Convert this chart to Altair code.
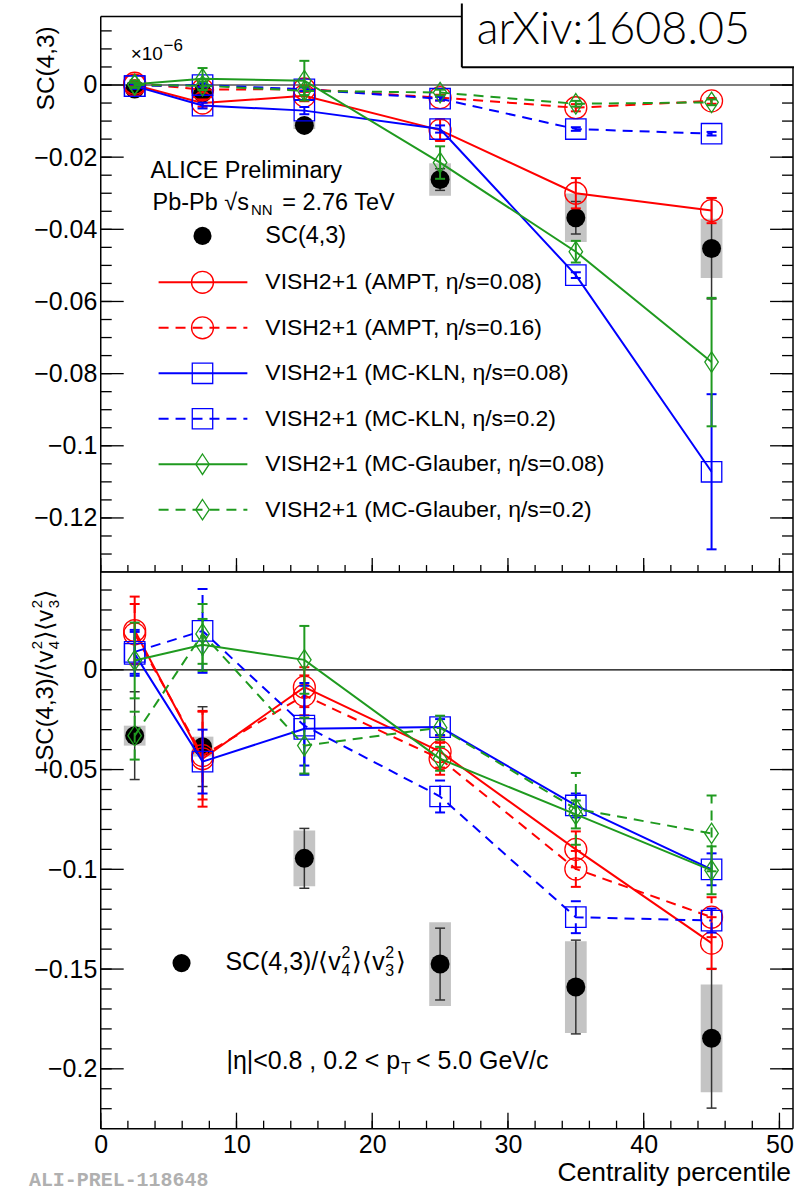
import altair as alt
import pandas as pd

FONT = "Liberation Sans"

# ---------------- data ----------------
CENT = [2.5, 7.5, 15, 25, 35, 45]

# upper panel: SC(4,3)
SC_VAL = [-0.0011, -0.0022, -0.0112, -0.0262, -0.0368, -0.0453]
SC_STAT = [0.0008, 0.0010, 0.0012, 0.0030, 0.0045, 0.0140]
SC_SYS = [0.0006, 0.0008, 0.0010, 0.0045, 0.0067, 0.0082]

TOP_AMPT_008 = [0.0000, -0.0050, -0.0030, -0.0125, -0.0300, -0.0348]
TOP_AMPT_008_ERR = [0.0008, 0.0010, 0.0015, 0.0030, 0.0042, 0.0035]
TOP_AMPT_016 = [0.0005, -0.0013, -0.0011, -0.0035, -0.0063, -0.0044]
TOP_AMPT_016_ERR = [0.0008, 0.0008, 0.0008, 0.0008, 0.0010, 0.0008]
TOP_KLN_008 = [-0.0003, -0.0057, -0.0071, -0.0122, -0.0527, -0.1072]
TOP_KLN_008_ERR = [0.0008, 0.0008, 0.0010, 0.0010, 0.0008, 0.0215]
TOP_KLN_02 = [-0.0003, 0.0000, -0.0012, -0.0038, -0.0122, -0.0135]
TOP_KLN_02_ERR = [0.0005, 0.0005, 0.0005, 0.0005, 0.0005, 0.0005]
TOP_GLA_008 = [0.0002, 0.0017, 0.0012, -0.0215, -0.0462, -0.0768]
TOP_GLA_008_ERR = [0.0010, 0.0030, 0.0055, 0.0045, 0.0030, 0.0178]
TOP_GLA_02 = [0.0000, -0.0002, -0.0016, -0.0021, -0.0052, -0.0048]
TOP_GLA_02_ERR = [0.0006, 0.0012, 0.0012, 0.0008, 0.0008, 0.0008]

# lower panel: SC(4,3)/<v4^2><v3^2>
NSC_VAL = [-0.0330, -0.0385, -0.0945, -0.1475, -0.1590, -0.1847]
NSC_STAT = [0.0220, 0.0200, 0.0150, 0.0180, 0.0235, 0.0350]
NSC_SYS = [0.0050, 0.0050, 0.0140, 0.0210, 0.0230, 0.0270]

BOT_AMPT_008 = [0.0197, -0.0446, -0.0087, -0.0410, -0.0900, -0.1370]
BOT_AMPT_008_ERR = [0.0170, 0.0240, 0.0100, 0.0080, 0.0090, 0.0130]
BOT_AMPT_016 = [0.0180, -0.0430, -0.0128, -0.0446, -0.0998, -0.1240]
BOT_AMPT_016_ERR = [0.0150, 0.0220, 0.0100, 0.0080, 0.0090, 0.0100]
BOT_KLN_008 = [0.0080, -0.0460, -0.0296, -0.0287, -0.0680, -0.1000]
BOT_KLN_008_ERR = [0.0110, 0.0160, 0.0230, 0.0040, 0.0060, 0.0080]
BOT_KLN_02 = [0.0090, 0.0195, -0.0280, -0.0635, -0.1240, -0.1257]
BOT_KLN_02_ERR = [0.0110, 0.0210, 0.0200, 0.0080, 0.0080, 0.0060]
BOT_GLA_008 = [0.0047, 0.0125, 0.0050, -0.0446, -0.0725, -0.1005]
BOT_GLA_008_ERR = [0.0190, 0.0130, 0.0170, 0.0060, 0.0070, 0.0120]
BOT_GLA_02 = [-0.0330, 0.0180, -0.0380, -0.0290, -0.0697, -0.0820]
BOT_GLA_02_ERR = [0.0120, 0.0150, 0.0140, 0.0060, 0.0180, 0.0190]

LEGEND_LABELS = [
    "VISH2+1 (AMPT, η/s=0.08)",
    "VISH2+1 (AMPT, η/s=0.16)",
    "VISH2+1 (MC-KLN, η/s=0.08)",
    "VISH2+1 (MC-KLN, η/s=0.2)",
    "VISH2+1 (MC-Glauber, η/s=0.08)",
    "VISH2+1 (MC-Glauber, η/s=0.2)",
]

TOP_Y_LABELS = [0, -0.02, -0.04, -0.06, -0.08, -0.1, -0.12]
BOT_Y_LABELS = [0, -0.05, -0.1, -0.15, -0.2]
X_LABELS = [0, 10, 20, 30, 40, 50]
TOP_Y_MINOR = [round(0.015 - 0.005 * i, 3) for i in range(30)]
BOT_Y_MINOR = [round(0.04 - 0.01 * i, 2) for i in range(27)]
X_MINOR = [2 * i for i in range(26)]

TOP_MODELS = [
    (TOP_AMPT_008, TOP_AMPT_008_ERR), (TOP_AMPT_016, TOP_AMPT_016_ERR),
    (TOP_KLN_008, TOP_KLN_008_ERR), (TOP_KLN_02, TOP_KLN_02_ERR),
    (TOP_GLA_008, TOP_GLA_008_ERR), (TOP_GLA_02, TOP_GLA_02_ERR),
]
BOT_MODELS = [
    (BOT_AMPT_008, BOT_AMPT_008_ERR), (BOT_AMPT_016, BOT_AMPT_016_ERR),
    (BOT_KLN_008, BOT_KLN_008_ERR), (BOT_KLN_02, BOT_KLN_02_ERR),
    (BOT_GLA_008, BOT_GLA_008_ERR), (BOT_GLA_02, BOT_GLA_02_ERR),
]

# ---------------- styles ----------------
RED, BLUE, GREEN = "#ff0000", "#0000ff", "#1f9a1f"
DASH = [10, 7]
DIAMOND = "M0,-1L0.66,0L0,1L-0.66,0Z"
STYLES = [
    dict(color=RED, dash=None, shape="circle", size=484),
    dict(color=RED, dash=DASH, shape="circle", size=484),
    dict(color=BLUE, dash=None, shape="square", size=420),
    dict(color=BLUE, dash=DASH, shape="square", size=420),
    dict(color=GREEN, dash=None, shape=DIAMOND, size=420),
    dict(color=GREEN, dash=DASH, shape=DIAMOND, size=420),
]

ONE = pd.DataFrame({"a": [0]})
W = 694
H_TOP = 557
H_BOT = 558

W_EM = {**{d: .556 for d in "0123456789"}, " ": .278, "(": .333, ")": .333,
        ",": .278, ".": .278, "/": .278, "−": .584, "-": .333, "=": .584,
        "<": .584, "|": .26, "+": .584, "η": .55, "⟨": .39, "⟩": .39,
        "√": .55, "S": .667, "C": .722, "v": .5, "P": .667, "b": .556,
        "T": .611, "e": .556, "V": .667, "G": .778, "c": .5, "s": .5, "N": .722}


def tw(s, size):
    return sum(W_EM.get(ch, .556) for ch in s) * size


def px_rule(x, y, x2=None, y2=None, color="black", width=1.5, dash=None):
    enc = dict(x=alt.value(x), y=alt.value(y))
    if x2 is not None:
        enc["x2"] = alt.value(x2)
    if y2 is not None:
        enc["y2"] = alt.value(y2)
    kw = dict(color=color, strokeWidth=width)
    if dash:
        kw["strokeDash"] = dash
    return alt.Chart(ONE).mark_rule(**kw).encode(**enc)


def px_text(txt, x, y, size, align="left", baseline="middle", angle=None,
            font=FONT, color="black", weight=None):
    kw = dict(font=font, fontSize=size, align=align, baseline=baseline, color=color)
    if angle is not None:
        kw["angle"] = angle
    if weight is not None:
        kw["fontWeight"] = weight
    return alt.Chart(ONE).mark_text(**kw).encode(
        x=alt.value(x), y=alt.value(y), text=alt.value(txt))


def build_panel(H, ydom, ylabels, yminor, xlen, val, stat, sys, models, show_x, extra):
    xsc = alt.Scale(domain=[0, 51], nice=False, zero=False)
    ysc = alt.Scale(domain=ydom, nice=False, zero=False)
    d = pd.DataFrame({"x": CENT, "v": val, "stat": stat, "sys": sys})
    d["bx1"] = d["x"] - 0.8
    d["bx2"] = d["x"] + 0.8
    d["by1"] = d["v"] - d["sys"]
    d["by2"] = d["v"] + d["sys"]
    d["ey1"] = d["v"] - d["stat"]
    d["ey2"] = d["v"] + d["stat"]

    if show_x:
        xaxis = alt.Axis(values=X_LABELS, format="d", title=None, labelPadding=4,
                         labelFlush=False, labelOverlap=False, labelFontSize=25,
                         ticks=False, domain=False, grid=False)
    else:
        xaxis = None
    yaxis = alt.Axis(values=ylabels, format=".2~f", title=None, labelPadding=4,
                     labelFlush=False, labelOverlap=False, labelFontSize=25,
                     ticks=False, domain=False, grid=False)

    X = lambda f: alt.X(f, scale=xsc, axis=xaxis)
    Y = lambda f: alt.Y(f, scale=ysc, axis=yaxis)

    layers = [px_rule(-100, 0, x2=-99, color="white", width=1)]
    # systematic boxes
    layers.append(alt.Chart(d).mark_rect(color="#c4c4c4").encode(
        x=X("bx1:Q"), x2="bx2:Q", y=Y("by1:Q"), y2="by2:Q"))
    # zero line
    layers.append(alt.Chart(pd.DataFrame({"z": [0]})).mark_rule(
        color="black", strokeWidth=1.2).encode(y=Y("z:Q")))
    # statistical errors of data
    layers.append(alt.Chart(d).mark_rule(color="#333333", strokeWidth=1.5).encode(
        x=X("x:Q"), y=Y("ey1:Q"), y2="ey2:Q"))
    for f in ["ey1:Q", "ey2:Q"]:
        layers.append(alt.Chart(d).mark_rule(color="#333333", strokeWidth=1.5,
                                             xOffset=-5, x2Offset=5).encode(
            x=X("x:Q"), x2="x:Q", y=Y(f)))
    layers.append(alt.Chart(d).mark_circle(size=361, color="black", opacity=1).encode(
        x=X("x:Q"), y=Y("v:Q")))

    # models
    for (vals, errs), st in zip(models, STYLES):
        m = pd.DataFrame({"x": CENT, "v": vals, "e": errs})
        m["lo"] = m["v"] - m["e"]
        m["hi"] = m["v"] + m["e"]
        lkw = dict(color=st["color"], strokeWidth=2)
        if st["dash"]:
            lkw["strokeDash"] = st["dash"]
        layers.append(alt.Chart(m).mark_line(**lkw).encode(x=X("x:Q"), y=Y("v:Q")))
        layers.append(alt.Chart(m).mark_rule(**lkw).encode(
            x=X("x:Q"), y=Y("lo:Q"), y2="hi:Q"))
        for f in ["lo:Q", "hi:Q"]:
            layers.append(alt.Chart(m).mark_rule(color=st["color"], strokeWidth=2,
                                                 xOffset=-5, x2Offset=5).encode(
                x=X("x:Q"), x2="x:Q", y=Y(f)))
        layers.append(alt.Chart(m).mark_point(
            shape=st["shape"], size=st["size"], filled=False, color=st["color"],
            strokeWidth=1.3, opacity=1).encode(x=X("x:Q"), y=Y("v:Q")))

    # inside ticks
    ymaj = pd.DataFrame({"t": ylabels})
    ymin = pd.DataFrame({"t": yminor})
    for df_, L in [(ymaj, 23), (ymin, 11)]:
        base = alt.Chart(df_).mark_rule(color="black", strokeWidth=1.3)
        layers.append(base.encode(y=Y("t:Q"), x=alt.value(0), x2=alt.value(L)))
        layers.append(base.encode(y=Y("t:Q"), x=alt.value(W - L), x2=alt.value(W)))
    xmaj = pd.DataFrame({"t": X_LABELS})
    xmin = pd.DataFrame({"t": X_MINOR})
    for df_, L in [(xmaj, xlen[0]), (xmin, xlen[1])]:
        base = alt.Chart(df_).mark_rule(color="black", strokeWidth=1.3)
        layers.append(base.encode(x=X("t:Q"), y=alt.value(H), y2=alt.value(H - L)))

    layers.extend(extra)
    return alt.layer(*layers).properties(width=W, height=H)


# ---------------- top panel decorations ----------------
top_extra = [
    # frame (top edge partly hidden by the arXiv box)
    px_rule(0, 0, y2=H_TOP), px_rule(0, H_TOP, x2=W), px_rule(0, 0, x2=362),
    px_rule(W, 51, y2=H_TOP),
    px_text("SC(4,3)", -54, 52, 24.5, align="center", angle=270),
    px_text("×10", 30, 38, 19),
    px_text("−6", 63, 30, 17),
    px_text("ALICE Preliminary", 50, 155, 23.5),
    px_text("Pb-Pb √s", 52, 187, 23.5),
    px_text("NN", 52 + tw("Pb-Pb √s", 23.5) + 2, 194, 15),
    px_text("= 2.76 TeV", 182, 187, 23.5),
]
top_extra.append(alt.Chart(ONE).mark_circle(size=330, color="black", opacity=1).encode(
    x=alt.value(102), y=alt.value(220)))
top_extra.append(px_text("SC(4,3)", 165, 220, 23.5))
for i, (lab, st) in enumerate(zip(LEGEND_LABELS, STYLES)):
    ry = 266.5 + 45.6 * i
    top_extra.append(px_rule(58, ry, x2=147, color=st["color"], width=2, dash=st["dash"]))
    top_extra.append(alt.Chart(ONE).mark_point(
        shape=st["shape"], size=st["size"], filled=False, color=st["color"],
        strokeWidth=1.3, opacity=1).encode(x=alt.value(102), y=alt.value(ry)))
    top_extra.append(px_text(lab, 165, ry, 23))
# arXiv box
top_extra.append(alt.Chart(ONE).mark_rect(color="white").encode(
    x=alt.value(362), x2=alt.value(695), y=alt.value(-13), y2=alt.value(51)))
top_extra.append(px_rule(362, -13, y2=51, width=2))
top_extra.append(px_rule(362, 51, x2=695, width=2))
top_extra.append(px_text("arXiv:1608.05", 377, 28, 45, baseline="alphabetic",
                         font="Lato", weight=300))

# ---------------- bottom panel decorations ----------------
bot_extra = [
    px_rule(0, 0, y2=H_BOT), px_rule(W, 0, y2=H_BOT), px_rule(0, 0, x2=W),
    px_rule(0, H_BOT, x2=W),
    px_text("Centrality percentile", 692, 610, 26.5, align="right", baseline="alphabetic"),
    px_text("ALI-PREL-118648", -72, 609, 20, font="Liberation Mono",
            color="#b0b0b0", weight="bold"),
]
# rotated y title with stacked super/subscripts
fs, ss = 24, 15
ty = 203
tx = -55
seg = "−SC(4,3)/⟨v"
bot_extra.append(px_text(seg, tx, ty, fs, angle=270))
ty -= tw(seg, fs) + 1
bot_extra.append(px_text("2", tx - 9, ty, ss, angle=270))
bot_extra.append(px_text("4", tx + 8, ty, ss, angle=270))
ty -= tw("2", ss) + 1
seg = "⟩⟨v"
bot_extra.append(px_text(seg, tx, ty, fs, angle=270))
ty -= tw(seg, fs) + 1
bot_extra.append(px_text("2", tx - 9, ty, ss, angle=270))
bot_extra.append(px_text("3", tx + 8, ty, ss, angle=270))
ty -= tw("2", ss) + 1
bot_extra.append(px_text("⟩", tx, ty, fs, angle=270))

# legend entry
bot_extra.append(alt.Chart(ONE).mark_circle(size=330, color="black", opacity=1).encode(
    x=alt.value(81), y=alt.value(392)))
lx, ly, lf = 125, 391, 25
seg = "SC(4,3)/⟨v"
bot_extra.append(px_text(seg, lx, ly, lf))
lx += tw(seg, lf) + 1
bot_extra.append(px_text("2", lx, ly - 9, 16))
bot_extra.append(px_text("4", lx, ly + 9, 16))
lx += tw("2", 16) + 2
seg = "⟩⟨v"
bot_extra.append(px_text(seg, lx, ly, lf))
lx += tw(seg, lf) + 1
bot_extra.append(px_text("2", lx, ly - 9, 16))
bot_extra.append(px_text("3", lx, ly + 9, 16))
lx += tw("2", 16) + 2
bot_extra.append(px_text("⟩", lx, ly, lf))

seg = "|η|<0.8 , 0.2 < p"
bot_extra.append(px_text(seg, 126, 490, 25))
px_T = 126 + tw(seg, 25) + 1
bot_extra.append(px_text("T", px_T, 498, 16))
bot_extra.append(px_text("< 5.0 GeV/c", px_T + 15, 490, 25))

top = build_panel(H_TOP, [-0.135, 0.019], TOP_Y_LABELS, TOP_Y_MINOR, (14, 7),
                  SC_VAL, SC_STAT, SC_SYS, TOP_MODELS, False, top_extra)
bottom = build_panel(H_BOT, [-0.23, 0.049], BOT_Y_LABELS, BOT_Y_MINOR, (16, 8),
                     NSC_VAL, NSC_STAT, NSC_SYS, BOT_MODELS, True, bot_extra)

chart = alt.vconcat(top, bottom, spacing=0, bounds="flush").properties(
    padding={"left": 0, "top": 0, "right": 0, "bottom": 0},
    background="white",
).configure_view(stroke="transparent", fill="white").configure_axis(
    labelFont=FONT, labelFontSize=25, labelColor="black",
    ticks=False, domain=False, grid=False,
)

chart.save("out.html", embed_options={"renderer": "svg", "actions": False})
